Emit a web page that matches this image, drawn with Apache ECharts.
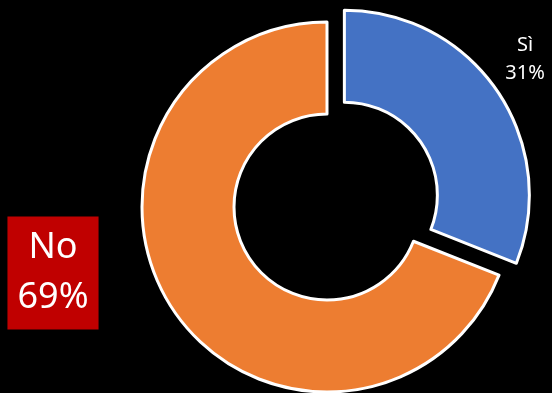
<!DOCTYPE html>
<html>
<head>
<meta charset="utf-8">
<script src="https://cdn.jsdelivr.net/npm/echarts@6/dist/echarts.min.js"></script>
<style>
  html, body { margin: 0; padding: 0; background: #000; }
  #chart { width: 552px; height: 393px; }
</style>
</head>
<body>
<div id="chart"></div>
<script>
// Survey answers and their shares (percent)
const categories = ['Sì', 'No'];
const values = [31, 69];
const colors = ['#4472C4', '#ED7D31'];

const chart = echarts.init(document.getElementById('chart'), null, { renderer: 'canvas' });

const CX = 327, CY = 207;
const RADIUS = [93, 185];
const EXPLODE = 21; // pull-out distance of the "Sì" slice

const labelStyles = [
  { color: '#fff', fontSize: 20, lineHeight: 28, fontFamily: 'Noto Sans' },
  { color: '#fff', fontSize: 36, lineHeight: 50, fontFamily: 'Noto Sans',
    backgroundColor: '#C00000', padding: [7, 10, 6, 10] }
];
const labelPos = [
  { x: 525, y: 59 },
  { x: 53, y: 273 }
];

// direction of the exploded slice: middle of its arc, measured clockwise from 12 o'clock
const total = values.reduce((a, b) => a + b, 0);
const midAngle = (90 - (values[0] / total) * 180) * Math.PI / 180;
const explodeCenter = [CX + EXPLODE * Math.cos(midAngle), CY - EXPLODE * Math.sin(midAngle)];

// one ring per slice so each can have its own centre; the other slice is left blank
function ring(visibleIndex, center) {
  return {
    type: 'pie',
    silent: true,
    center: center,
    radius: RADIUS,
    startAngle: 90,
    clockwise: true,
    label: {
      show: true,
      position: 'outside',
      formatter: p => p.name + '\n' + p.value + '%',
      overflow: 'none'
    },
    labelLine: { show: false },
    labelLayout: p => ({
      x: labelPos[p.dataIndex].x,
      y: labelPos[p.dataIndex].y,
      align: 'center',
      verticalAlign: 'middle'
    }),
    data: categories.map((c, i) => i === visibleIndex ? {
      name: c,
      value: values[i],
      itemStyle: { color: colors[i], borderColor: '#fff', borderWidth: 3 },
      label: labelStyles[i]
    } : {
      name: c,
      value: values[i],
      itemStyle: { color: 'rgba(0,0,0,0)', borderWidth: 0 },
      label: { show: false }
    })
  };
}

chart.setOption({
  backgroundColor: '#000',
  animation: false,
  series: [
    ring(1, [CX, CY]),
    ring(0, explodeCenter)
  ]
});
</script>
</body>
</html>
